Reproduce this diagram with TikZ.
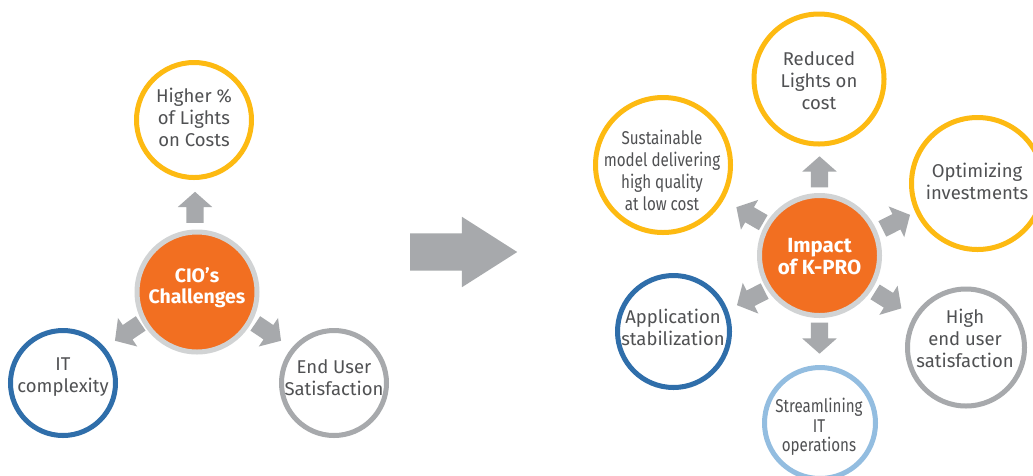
\documentclass[tikz,border=0pt]{standalone}
\usepackage{fontspec}
\setmainfont{Fira Sans}
\newfontfamily\condfont[FakeStretch=0.82]{Fira Sans}
\usetikzlibrary{shapes.arrows,calc}
\definecolor{kyellow}{HTML}{FDBA12}
\definecolor{kblue}{HTML}{2F6EAA}
\definecolor{klblue}{HTML}{93BDE0}
\definecolor{kgray}{HTML}{A7A9AC}
\definecolor{kring}{HTML}{D1D3D4}
\definecolor{korange}{HTML}{F26F21}
\definecolor{ktext}{HTML}{505153}
\begin{document}
\begin{tikzpicture}[x=1pt,y=-1pt,
  ring/.style={circle, draw=#1, line width=5pt, inner sep=0pt, fill=white},
  hub/.style={circle, fill=korange, draw=kring, line width=5pt, inner sep=0pt, minimum size=120pt},
  txt/.style={align=center, text=ktext, inner sep=0pt, font=\fontsize{18.5}{22}\selectfont},
  ctxt/.style={align=center, text=ktext, inner sep=0pt, font=\fontsize{18.5}{22}\selectfont\condfont},
  hubtxt/.style={align=center, text=white, inner sep=0pt},
  blk/.style={single arrow, fill=kgray, inner xsep=0pt, inner ysep=8.5pt, minimum width=34pt, minimum height=31pt,
    single arrow head extend=8.5pt, single arrow tip angle=97, anchor=tail}
]
\clip (0,0) rectangle (1033,475);
\fill[white] (0,0) rectangle (1033,475);

% ---------- left diagram ----------
\node[hub] (cio) at (197,292) {};
\node[ring=kyellow, minimum size=115pt] (hl) at (194,120) {};
\node[ring=kblue, minimum size=105pt] (it) at (63,383) {};
\node[ring=kgray, minimum size=105pt] (eu) at (334,383) {};

\node[hubtxt, font=\fontsize{19.5}{21.5}\selectfont\bfseries] (ciot) at (197,287.5) {CIO’s\\Challenges};
\node[txt] (hlt) at (194,117) {Higher \%\\of Lights\\on Costs};
\node[txt] (itt) at (63,377.5) {IT\\complexity};
\node[txt] (eut) at (334,377.5) {End User\\Satisfaction};

\node[blk, rotate=90] (la1) at (195,223) {};
\node[blk, rotate=214] (la2) at (140.85,323.3) {};
\node[blk, rotate=326] (la3) at (255.15,323.3) {};

% ---------- big arrow ----------
\node[single arrow, fill=kgray, inner xsep=0pt, inner ysep=18.5pt, minimum width=70pt, minimum height=107pt,
  single arrow head extend=16.5pt, single arrow tip angle=65, anchor=tail] (big) at (410,252) {};

% ---------- right diagram ----------
\node[hub] (kp) at (819.5,255.5) {};
\node[ring=kyellow, minimum size=130pt] (rl) at (819,79) {};
\node[ring=kyellow, minimum size=135pt] (sm) at (663,165) {};
\node[ring=kyellow, minimum size=132pt] (oi) at (977.5,183.5) {};
\node[ring=kblue, minimum size=112pt] (as) at (673.5,331.5) {};
\node[ring=kgray, minimum size=117pt] (he) at (966,347.5) {};
\node[ring=klblue, minimum size=111pt] (st) at (820,423) {};

\node[hubtxt, font=\fontsize{20.5}{21.5}\selectfont\bfseries] (kpt) at (819.5,256.5) {Impact\\of K-PRO};
\node[txt] (rlt) at (819,81) {Reduced\\Lights on\\cost};
\node[ctxt] (smt) at (662,170) {Sustainable\\model delivering\\high quality\\at low cost};
\node[txt] (oit) at (977,181) {Optimizing\\investments};
\node[txt] (ast) at (673,327.5) {Application\\stabilization};
\node[txt] (het) at (965,338) {High\\end user\\satisfaction};
\node[ctxt, font=\fontsize{18.5}{19.5}\selectfont\condfont] (stt) at (819,427) {Streamlining\\IT\\operations};

\node[blk, rotate=90] (ra1) at (819.5,187.5) {};
\node[blk, rotate=270] (ra2) at (819.5,322.5) {};
\node[blk, rotate=150] (ra3) at (763.4,222.75) {};
\node[blk, rotate=27] (ra4) at (882.2,229.0) {};
\node[blk, rotate=207] (ra5) at (764.8,291.0) {};
\node[blk, rotate=328] (ra6) at (874.9,291.8) {};
\end{tikzpicture}
\end{document}
